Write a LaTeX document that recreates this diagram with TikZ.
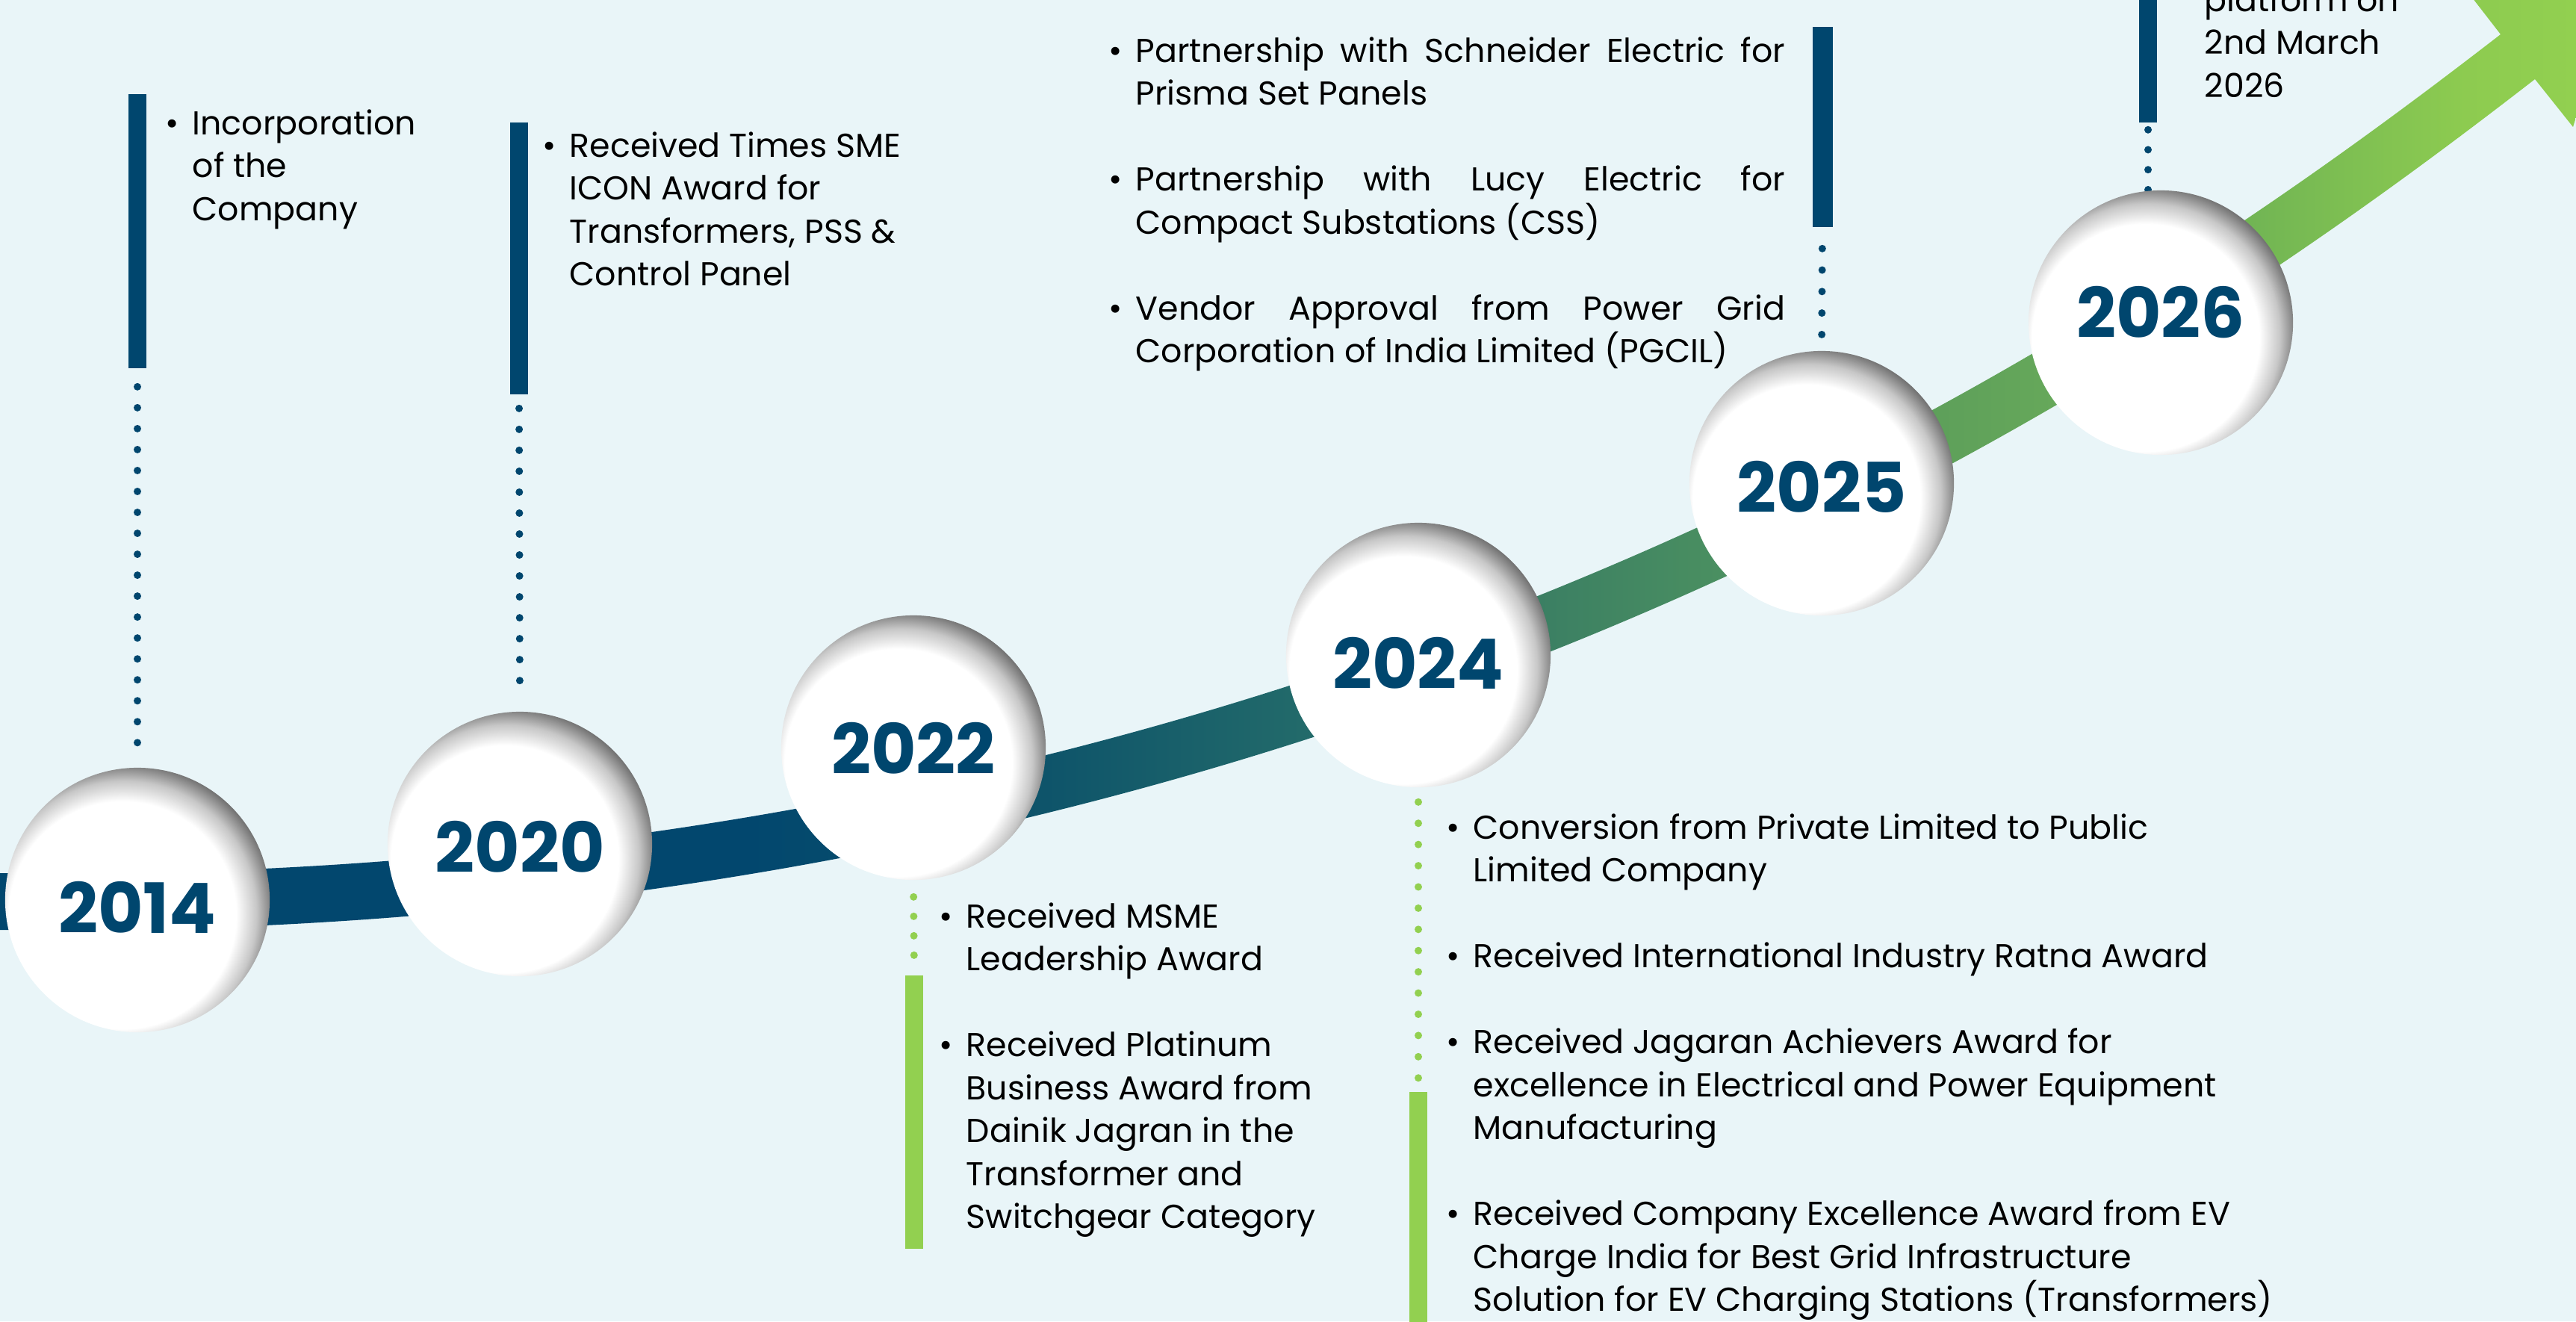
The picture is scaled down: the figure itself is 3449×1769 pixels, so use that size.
\documentclass[tikz,border=0pt]{standalone}
\usepackage{fontspec}
\setmainfont{Poppins}
\definecolor{navy}{RGB}{0,70,110}
\definecolor{lgreen}{RGB}{146,208,80}
\definecolor{bgc}{RGB}{233,245,248}
\definecolor{bc0}{RGB}{2,71,110}
\definecolor{bc1}{RGB}{14,84,106}
\definecolor{bc2}{RGB}{35,107,106}
\definecolor{bc3}{RGB}{59,127,99}
\definecolor{bc4}{RGB}{74,143,97}
\definecolor{bc5}{RGB}{94,160,90}
\definecolor{bc6}{RGB}{102,168,90}
\definecolor{bc7}{RGB}{112,180,84}
\definecolor{bc8}{RGB}{141,203,80}
\definecolor{bc9}{RGB}{146,208,80}
\pgfdeclarehorizontalshading{bandshade}{100bp}{color(0bp)=(bc0); color(25bp)=(bc0); color(39.5bp)=(bc0); color(45.3bp)=(bc1); color(50.51bp)=(bc2); color(54.86bp)=(bc3); color(58.34bp)=(bc4); color(62.69bp)=(bc5); color(64.87bp)=(bc6); color(68.49bp)=(bc7); color(72.84bp)=(bc8); color(75bp)=(bc9); color(100bp)=(bc9)}
\pgfdeclareradialshading{ballshade}{\pgfpoint{-5bp}{-5bp}}{color(0bp)=(white); color(21.5bp)=(white); color(25bp)=(black!22); color(28bp)=(black!55); color(50bp)=(black!55)}
\newlength\bind
\setlength\bind{10.24pt}
\newcommand\bitem{\noindent\hangindent=\bind\hangafter=1\makebox[\bind][l]{\textbullet}}
\newcommand\itemgap{\par\vspace{16.36pt}}
\newcommand\jline[1]{\makebox[247.3pt][s]{#1}}
\tikzset{
  ball/.style={circle, minimum size=3.54cm, inner sep=0pt, shade, shading=ballshade},
  yr/.style={inner sep=0pt, text=navy, font=\fontsize{26.4pt}{28pt}\selectfont\bfseries},
  txt/.style={anchor=base west, inner sep=0pt, text=black, font=\fontsize{12.6pt}{16.36pt}\selectfont},
  navybar/.style={rectangle, fill=navy, inner sep=0pt, minimum width=0.24cm},
  greenbar/.style={rectangle, fill=lgreen, inner sep=0pt, minimum width=0.24cm},
  ndots/.style={draw=navy, line width=2.85pt, line cap=round, dash pattern=on 0pt off #1},
  gdots/.style={draw=lgreen, line width=2.85pt, line cap=round, dash pattern=on 0pt off #1}
}
\begin{document}
\begin{tikzpicture}[x=0.01cm,y=-0.01cm]
\useasboundingbox (0,0) rectangle (3449,1769);
\fill[bgc] (0,0) rectangle (3449,1769);
% rising band with arrow head
\begin{scope}
\clip (0,1169) .. controls (1788,1192) and (2877,410) .. (3348,46)
  -- (3300,-16) -- (3505,-28) -- (3445,170) -- (3394,106)
  .. controls (2923,471) and (1812,1268) .. (0,1245) -- cycle;
\shade[shading=bandshade] (0,-60) rectangle (3449,1769);
\end{scope}
% bars
\node[navybar, minimum height=3.67cm] (bar14) at (184,309.5) {};
\node[navybar, minimum height=3.64cm] (bar20) at (695,346) {};
\node[greenbar, minimum height=3.66cm] (bar22) at (1224,1489) {};
\node[greenbar, minimum height=3.18cm] (bar24) at (1899,1621) {};
\node[navybar, minimum height=2.68cm, minimum width=0.27cm] (bar25) at (2440,170) {};
\node[navybar, minimum height=1.84cm] (bar26) at (2876,72) {};
% circles
\node[ball] (b2014) at (184,1205) {};
\node[ball] (b2020) at (696,1130) {};
\node[ball] (b2022) at (1223,1001) {};
\node[ball] (b2024) at (1899,877) {};
\node[ball] (b2025) at (2439,647) {};
% dotted connectors
\draw[ndots=7.97pt, shorten <=0.24cm, shorten >=0.15cm] (bar14.south) -- (b2014.north);
\draw[ndots=7.97pt, shorten <=0.18cm, shorten >=0.17cm] (bar20.south) -- (b2020.north);
\draw[gdots=7.40pt, shorten <=0.22cm, shorten >=0.22cm] (b2022.south) -- (bar22.north);
\draw[gdots=8.08pt, shorten <=0.19cm, shorten >=0.16cm] (b2024.south) -- (bar24.north);
\draw[ndots=8.18pt, shorten <=0.28cm, shorten >=0.18cm] (bar25.south) -- (b2025.north);
\coordinate (d26e) at (2876,262);
\draw[ndots=7.60pt, shorten <=0.09cm] (bar26.south) -- (d26e);
\node[ball] (b2026) at (2893,432) {};
% year labels
\node[yr] (t2014) at (184,1215) {2014};
\node[yr] (t2020) at (696,1134) {2020};
\node[yr] (t2022) at (1223,1002) {2022};
\node[yr] (t2024) at (1899,888) {2024};
\node[yr] (t2025) at (2439,652) {2025};
\node[yr] (t2026) at (2893,418) {2026};
% texts
\node[txt] (x2014) at (221,180) {\parbox[t]{8cm}{\bitem Incorporation\\of the\\Company}};
\node[txt] (x2020) at (726,210) {\parbox[t]{8cm}{\bitem Received Times SME\\ICON Award for\\Transformers, PSS \&\\Control Panel}};
\node[txt] (x2022) at (1257,1242) {\parbox[t]{8cm}{\bitem Received MSME\\Leadership Award\itemgap
\bitem Received Platinum\\Business Award from\\Dainik Jagran in the\\Transformer and\\Switchgear Category}};
\node[txt] (x2024) at (1936,1123) {\parbox[t]{14cm}{\bitem Conversion from Private Limited to Public\\Limited Company\itemgap
\bitem Received International Industry Ratna Award\itemgap
\bitem Received Jagaran Achievers Award for\\excellence in Electrical and Power Equipment\\Manufacturing\itemgap
\bitem Received Company Excellence Award from EV\\Charge India for Best Grid Infrastructure\\Solution for EV Charging Stations (Transformers)}};
\node[txt] (x2025) at (1484,83) {\parbox[t]{12cm}{\bitem \jline{Partnership with Schneider Electric for}\\Prisma Set Panels\itemgap
\bitem \jline{Partnership with Lucy Electric for}\\Compact Substations (CSS)\itemgap
\bitem \jline{Vendor Approval from Power Grid}\\Corporation of India Limited (PGCIL)}};
\node[txt] (x2026) at (2951,15) {\parbox[t]{5cm}{platform on\\2nd March\\2026}};
\end{tikzpicture}
\end{document}
